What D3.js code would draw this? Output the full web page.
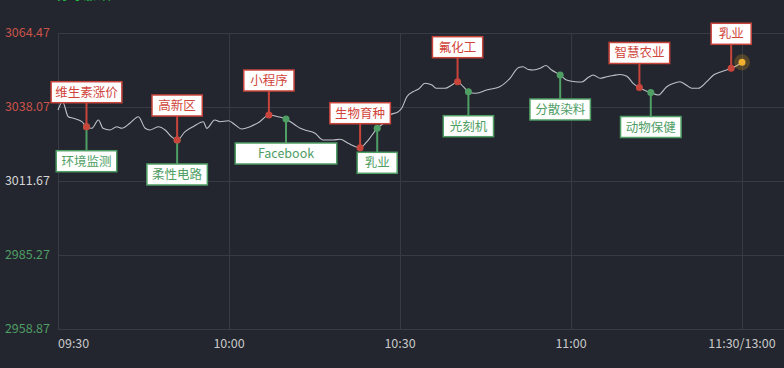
<!DOCTYPE html>
<html>
<head>
<meta charset="utf-8">
<script src="https://cdn.jsdelivr.net/npm/d3@7"></script>
<style>
html,body{margin:0;padding:0;background:#23262e;}
svg{display:block;}
text{font-family:"Noto Sans CJK SC","Noto Sans",sans-serif;}
</style>
</head>
<body>
<svg id="chart" width="784" height="368"></svg>
<script>
// minutes since 09:30
const times = [0,0.8,1.8,2.7,4.2,5.0,5.9,7.1,7.9,9.1,10.3,11.2,12.6,14.1,15.3,16.1,17.6,18.8,19.9,20.9,
  22.3,23.7,25.5,26.1,27.5,28.4,29.9,31.1,32.2,33.7,35.4,37.0,38.6,40.0,41.6,42.5,43.3,45.1,46.5,48.3,
  49.5,50.9,53.0,54.2,56.0,57.4,58.2,59.7,60.3,61.2,62.3,63.2,64.4,65.6,66.4,67.9,69.1,70.1,71.1,72.0,
  73.2,75.2,77.5,79.3,80.8,81.6,82.5,83.4,84.6,85.6,86.6,88.1,89.2,90.7,91.9,93.0,93.9,95.1,96.3,97.4,
  98.6,99.8,100.9,102.0,103.0,104.0,105.3,106.8,107.9,109.1,110.2,111.2,112.3,113.8,115.0,116.4,118.1,119.0,120];
const values = [3037.00,3039.96,3034.61,3034.04,3032.83,3031.04,3030.47,3033.43,3030.47,3029.86,3031.04,3030.47,3032.25,3034.61,3030.47,3029.86,3031.04,3029.86,3027.47,3026.30,
  3029.26,3031.04,3032.83,3030.47,3033.43,3032.83,3033.18,3031.65,3030.22,3031.04,3032.83,3035.22,3034.61,3033.79,3031.65,3030.47,3029.86,3028.69,3026.30,3026.30,
  3026.55,3025.12,3023.55,3025.69,3030.47,3032.83,3035.22,3036.39,3037.61,3041.74,3043.53,3044.38,3046.53,3045.92,3044.74,3044.74,3045.92,3047.10,3045.31,3043.53,
  3042.96,3044.13,3045.31,3048.31,3052.16,3052.45,3051.45,3051.27,3051.88,3052.88,3051.27,3049.49,3047.70,3047.10,3046.99,3048.59,3049.49,3048.31,3048.88,3049.31,
  3049.66,3049.06,3046.53,3045.03,3043.96,3043.24,3042.35,3045.31,3046.45,3047.10,3045.92,3044.74,3044.74,3047.10,3049.49,3050.66,3051.88,3052.70,3054.02];

const yTicks = [3064.47,3038.07,3011.67,2985.27,2958.87];
const xTicks = [0,30,60,90,120];
const xTickLabels = ["09:30","10:00","10:30","11:00","11:30/13:00"];

const upTimes = [5.0,20.9,37.0,53.0,70.1,102.0,118.1];
const upLabels = ["维生素涨价","高新区","小程序","生物育种","氟化工","智慧农业","乳业"];
const downTimes = [5.0,20.9,40.0,56.0,72.0,88.1,104.0];
const downLabels = ["环境监测","柔性电路","Facebook","乳业","光刻机","分散染料","动物保健"];

(function(){
const W = 784, H = 368;
const pL = 58, pR = 742, pT = 33, pB = 329;
const RED = "#c9453c", GREEN = "#4f9e64";
const svg = d3.select("#chart");

const x = d3.scaleLinear().domain([0,120]).range([pL,pR]);
const y = d3.scaleLinear().domain([2958.87,3064.47]).range([pB,pT]);

// top clipped text
svg.append("text").attr("x",57).attr("y",-0.5).attr("fill","#22c044").attr("font-size",12)
  .text("分时  涨  跌");

// grid
const g = svg.append("g");
g.selectAll(".hg").data(yTicks).join("line")
  .attr("x1",pL).attr("x2",W).attr("y1",d=>Math.round(y(d))+0.5).attr("y2",d=>Math.round(y(d))+0.5)
  .attr("stroke","#383b43").attr("stroke-width",1);
g.selectAll(".vg").data(xTicks).join("line")
  .attr("x1",d=>Math.round(x(d))+0.5).attr("x2",d=>Math.round(x(d))+0.5).attr("y1",pT).attr("y2",pB)
  .attr("stroke","#383b43").attr("stroke-width",1);

// y labels
const yColor = (d,i)=> i<2 ? "#c9524a" : (i===2 ? "#d4d4d4" : "#4f9e64");
svg.selectAll(".yl").data(yTicks).join("text")
  .attr("x",50).attr("y",d=>y(d)).attr("dy","0.35em").attr("text-anchor","end")
  .attr("font-size",12.5).attr("fill",yColor).text(d=>d.toFixed(2));

// x labels
svg.selectAll(".xl").data(xTicks).join("text")
  .attr("x",d=>x(d)).attr("y",348)
  .attr("text-anchor",(d,i)=> i===0 ? "start" : "middle")
  .attr("font-size",12.5).attr("fill","#c8c8c8").text((d,i)=>xTickLabels[i]);

// line
const pts = times.map((t,i)=>[t,values[i]]);
svg.append("path").datum(pts)
  .attr("d",d3.line().x(d=>x(d[0])).y(d=>y(d[1])).curve(d3.curveMonotoneX))
  .attr("fill","none").attr("stroke","#bfc2c8").attr("stroke-width",1.1);

function valAt(t){ const i = times.indexOf(t); return values[i]; }
function boxW(s){ return 10.25*s.length + 19.5; }
const BH = 21, STEM = 24;

// down (green) annotations
downTimes.forEach((t,i)=>{
  const px = x(t), py = y(valAt(t)), w = boxW(downLabels[i]);
  svg.append("line").attr("x1",px).attr("x2",px).attr("y1",py).attr("y2",py+STEM)
    .attr("stroke",GREEN).attr("stroke-width",2);
  svg.append("rect").attr("x",px-w/2).attr("y",py+STEM).attr("width",w).attr("height",BH)
    .attr("fill","#ffffff").attr("stroke",GREEN).attr("stroke-width",1.5);
  svg.append("text").attr("x",px).attr("y",py+STEM+BH/2).attr("dy","0.36em").attr("text-anchor","middle")
    .attr("font-size",12.5).attr("fill","#4f9e64").text(downLabels[i]);
  svg.append("circle").attr("cx",px).attr("cy",py).attr("r",3.5).attr("fill",GREEN);
});

// up (red) annotations
upTimes.forEach((t,i)=>{
  const px = x(t), py = y(valAt(t)), w = boxW(upLabels[i]);
  svg.append("line").attr("x1",px).attr("x2",px).attr("y1",py).attr("y2",py-STEM)
    .attr("stroke",RED).attr("stroke-width",2);
  svg.append("rect").attr("x",px-w/2).attr("y",py-STEM-BH).attr("width",w).attr("height",BH)
    .attr("fill","#ffffff").attr("stroke",RED).attr("stroke-width",1.5);
  svg.append("text").attr("x",px).attr("y",py-STEM-BH/2).attr("dy","0.36em").attr("text-anchor","middle")
    .attr("font-size",12.5).attr("fill","#d0443a").text(upLabels[i]);
  svg.append("circle").attr("cx",px).attr("cy",py).attr("r",3.5).attr("fill",RED);
});

// end glow dot
const lt = times[times.length-1], lv = values[values.length-1];
svg.append("circle").attr("cx",x(lt)).attr("cy",y(lv)).attr("r",8).attr("fill","#e0a020").attr("opacity",0.25);
svg.append("circle").attr("cx",x(lt)).attr("cy",y(lv)).attr("r",3.5).attr("fill","#f0b030");
})();
</script>
</body>
</html>
